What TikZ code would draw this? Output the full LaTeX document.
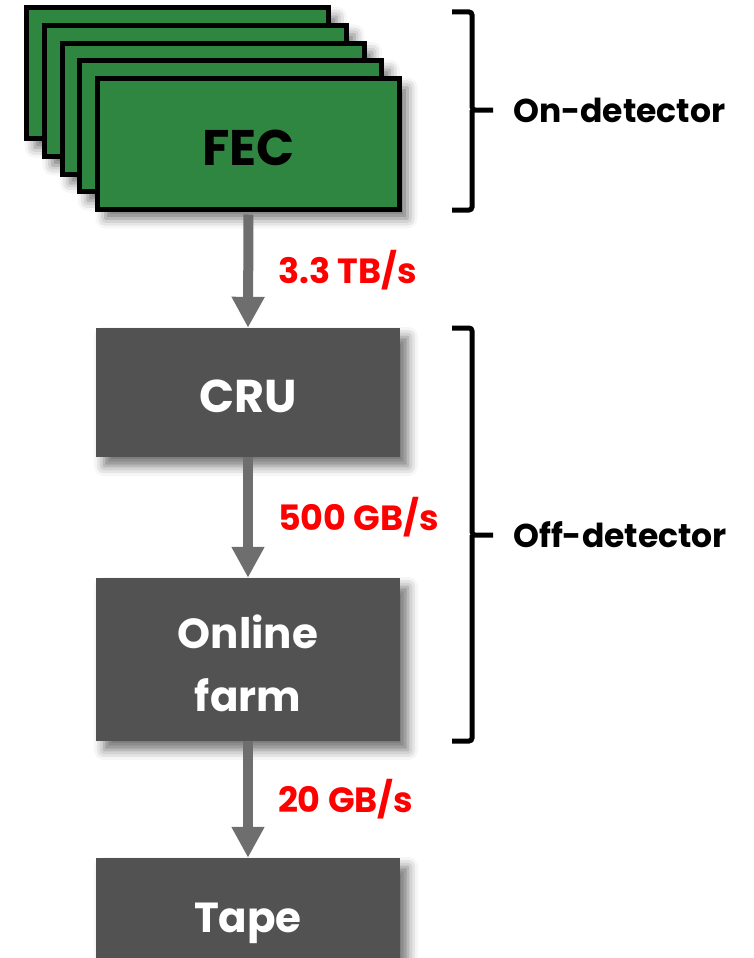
\documentclass[tikz,border=0pt]{standalone}
\usepackage{fontspec}
\setmainfont{Poppins}
\usetikzlibrary{arrows.meta,shadows.blur,positioning}

\definecolor{fecgreen}{RGB}{46,134,64}
\definecolor{boxgray}{RGB}{82,82,82}
\definecolor{arrowgray}{RGB}{110,110,110}

% move a label down without changing its box
\newcommand{\dropped}[1]{\raisebox{-4pt}[\height][\depth]{#1}}

\tikzset{
  softshadow/.style={blur shadow={shadow xshift=8pt, shadow yshift=-9pt,
      shadow blur radius=10pt, shadow opacity=55}},
  fecbox/.style={draw=black, line width=5pt, fill=fecgreen, softshadow,
      minimum width=302pt, minimum height=131pt,
      font=\bfseries\fontsize{50}{52}\selectfont},
  graybox/.style={fill=boxgray, text=white, softshadow, minimum width=304pt,
      align=center, font=\bfseries\fontsize{42}{63}\selectfont},
  flow/.style={arrowgray, line width=10pt, -{Triangle[width=31pt,length=31pt]}},
  rate/.style={text=red, inner sep=0pt, font=\bfseries\fontsize{35}{38}\selectfont},
  bracket/.style={line width=5pt, rounded corners=3pt},
  side/.style={anchor=west, inner sep=0pt, font=\bfseries\fontsize{33}{36}\selectfont}
}

\begin{document}
\begin{tikzpicture}[x=1pt, y=-1pt]
\useasboundingbox (0,0) rectangle (754,958);

% stack of front-end cards, back to front
\foreach \k in {4,3,2,1}
  \node[fecbox] (fec\k) at ({248.5-17.7*\k},{144-17.7*\k}) {};
\node[fecbox] (fec) at (248.5,144) {\dropped{FEC}};

% processing chain
\node[graybox, minimum height=129pt, font=\bfseries\fontsize{46}{50}\selectfont]
  (cru) at (248,392.5) {\dropped{CRU}};
\node[graybox, minimum height=163pt] (farm) at (248,659.5) {\dropped{Online}\\\dropped{farm}};
\node[graybox, minimum height=130pt] (tape) at (248,923) {Tape};

\draw[flow, shorten <=2.5pt] (fec.south) -- (cru.north)
  node[rate, midway, right=25pt] {3.3 TB/s};
\draw[flow] (cru.south) -- (farm.north)
  node[rate, midway, right=25pt] {500 GB/s};
\draw[flow] (farm.south) -- (tape.north)
  node[rate, midway, right=25pt] {20 GB/s};

% brackets
\draw[bracket] (452,12) -| (472,110) -- (493,110);
\draw[bracket] (472,110) |- (452,210);
\node[side] (ondet) at (513,110) {On-detector};

\draw[bracket] (452,328) -| (472,535) -- (493,535);
\draw[bracket] (472,535) |- (452,741);
\node[side] (offdet) at (513,535) {Off-detector};
\end{tikzpicture}
\end{document}
